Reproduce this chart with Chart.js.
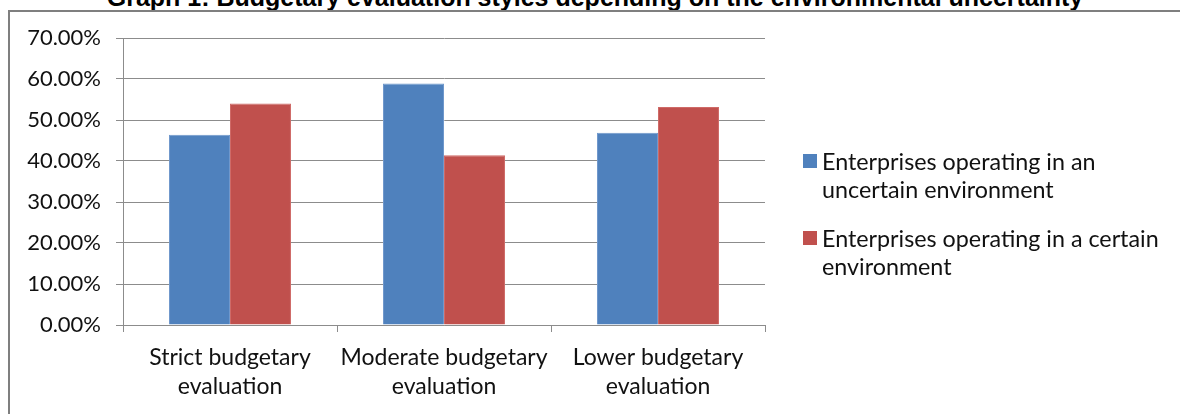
<!DOCTYPE html>
<html>
<head>
<meta charset="utf-8">
<script src="https://cdn.jsdelivr.net/npm/chart.js@4.4.1/dist/chart.umd.min.js"></script>
<style>
  html, body { margin: 0; padding: 0; background: #fff; }
  body { width: 1180px; height: 414px; position: relative; overflow: hidden; }
  #title {
    position: absolute; left: 0; width: 1190px; top: -17px;
    text-align: center; font: bold 25px "Liberation Sans", Arial, sans-serif; color: #000;
    white-space: nowrap;
  }
  #frame {
    position: absolute; left: 8px; top: 10px; width: 1200px; height: 440px;
    border: 2px solid #7f7f7f; box-sizing: border-box;
  }
  #wrap { position: absolute; left: 0; top: 0; width: 1180px; height: 414px; }
  #legend {
    position: absolute; left: 803px; top: 147px; width: 376px;
    font: 23.3px Lato, "Open Sans", sans-serif; color: #111;
  }
  .item { position: relative; padding-left: 19px; line-height: 28px; margin-bottom: 21px; }
  .sw { position: absolute; left: 0; top: 7px; width: 14px; height: 14px; }
</style>
</head>
<body>
<div id="title">Graph 1: Budgetary evaluation styles depending on the environmental uncertainty</div>
<div id="frame"></div>
<div id="wrap"><canvas id="c" width="1180" height="414"></canvas></div>
<div id="legend"></div>
<script>
// Budgetary evaluation styles by environment type (share of enterprises)
const categories = [
  ["Strict budgetary", "evaluation"],
  ["Moderate budgetary", "evaluation"],
  ["Lower budgetary", "evaluation"]
];
const seriesNames = [
  "Enterprises operating in an uncertain environment",
  "Enterprises operating in a certain environment"
];
const uncertainEnv = [0.464, 0.589, 0.469];
const certainEnv   = [0.540, 0.414, 0.532];
const yTicks = [0, 0.1, 0.2, 0.3, 0.4, 0.5, 0.6, 0.7];

const colors = ["#4F81BD", "#C0504D"];
const borders = ["#6f98cc", "#cf6a67"];

const chart = new Chart(document.getElementById("c"), {
  type: "bar",
  data: {
    labels: categories,
    datasets: [
      { label: seriesNames[0], data: uncertainEnv, backgroundColor: colors[0], borderColor: borders[0], borderWidth: 1 },
      { label: seriesNames[1], data: certainEnv, backgroundColor: colors[1], borderColor: borders[1], borderWidth: 1 }
    ]
  },
  options: {
    responsive: false,
    animation: false,
    maintainAspectRatio: false,
    layout: { padding: { left: 0, right: 415, top: 38, bottom: 0 } },
    plugins: { legend: { display: false }, title: { display: false }, tooltip: { enabled: false } },
    datasets: { bar: { categoryPercentage: 0.57, barPercentage: 1.0 } },
    scales: {
      x: {
        offset: true,
        grid: { drawOnChartArea: false, drawTicks: true, tickLength: 7, color: "#8c8c8c", offset: true },
        border: { display: true, color: "#8c8c8c", width: 1 },
        ticks: {
          color: "#111", padding: 11, maxRotation: 0, autoSkip: false,
          font: { family: "Lato", size: 23, lineHeight: 1.27 }
        },
        afterFit(scale) { scale.height = 89; }
      },
      y: {
        min: 0, max: 0.7,
        afterBuildTicks(scale) { scale.ticks = yTicks.map(v => ({ value: v })); },
        grid: { color: "#8c8c8c", lineWidth: 1, drawTicks: true, tickLength: 7 },
        border: { display: true, color: "#8c8c8c", width: 1 },
        ticks: {
          color: "#111", padding: 15,
          font: { family: "Lato", size: 22 },
          callback: v => (v * 100).toFixed(2) + "%"
        },
        afterFit(scale) { scale.width = 123; }
      }
    }
  }
});

// Legend with wrapped labels, built from the datasets
const legend = document.getElementById("legend");
chart.data.datasets.forEach(ds => {
  const item = document.createElement("div");
  item.className = "item";
  const sw = document.createElement("span");
  sw.className = "sw";
  sw.style.background = ds.backgroundColor;
  item.appendChild(sw);
  item.appendChild(document.createTextNode(ds.label));
  legend.appendChild(item);
});
</script>
</body>
</html>
